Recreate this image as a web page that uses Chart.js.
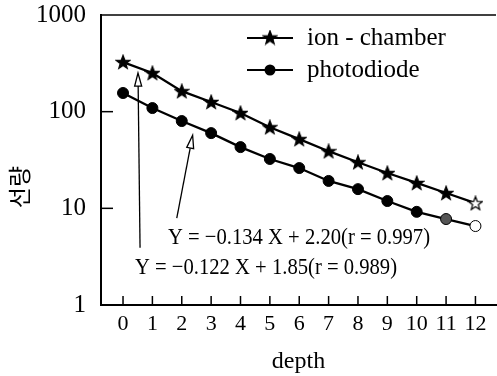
<!DOCTYPE html>
<html>
<head>
<meta charset="utf-8">
<script src="https://cdn.jsdelivr.net/npm/chart.js@4"></script>
<style>
  body { margin: 0; background: #fff; }
  canvas { display: block; }
</style>
</head>
<body>
<canvas id="chart" width="497" height="376"></canvas>
<script>
const depth = [0, 1, 2, 3, 4, 5, 6, 7, 8, 9, 10, 11, 12];
const ionChamber = [326, 251, 163, 126, 97, 69, 52, 39, 30, 23.2, 18.3, 14.4, 11.3];
const photodiode = [156, 109, 80, 60, 43, 32.4, 26.1, 19.2, 15.8, 11.9, 9.2, 7.75, 6.56];
const yTicks = [1, 10, 100, 1000];
const seriesNames = ['ion - chamber', 'photodiode'];
const equations = ['Y = \u22120.134 X + 2.20(r = 0.997)', 'Y = \u22120.122 X + 1.85(r = 0.989)'];
const yTitle = '\uc120\ub7c9';

const serif = '"Liberation Serif", "DejaVu Serif", serif';

function makeStar(fill) {
  const c = document.createElement('canvas');
  c.width = c.height = 16;
  const g = c.getContext('2d');
  g.beginPath();
  for (let i = 0; i < 10; i++) {
    const r = i % 2 ? 3 : 7.2;
    const a = -Math.PI / 2 + i * Math.PI / 5;
    const px = 8 + r * Math.cos(a), py = 8.5 + r * Math.sin(a);
    i ? g.lineTo(px, py) : g.moveTo(px, py);
  }
  g.closePath();
  g.fillStyle = fill;
  g.fill();
  g.strokeStyle = '#000';
  g.lineWidth = 1.2;
  g.stroke();
  return c;
}
const starFull = makeStar('#000');
const starOpen = makeStar('#fff');

const toPoints = vals => vals.map((v, i) => ({ x: depth[i], y: v }));
const last = depth.length - 1;

function arrow(ctx, x1, y1, x2, y2) {
  const ang = Math.atan2(y2 - y1, x2 - x1);
  const len = 13, hw = 3.5;
  const bx = x2 - len * Math.cos(ang), by = y2 - len * Math.sin(ang);
  ctx.beginPath();
  ctx.moveTo(x1, y1);
  ctx.lineTo(bx, by);
  ctx.stroke();
  ctx.beginPath();
  ctx.moveTo(x2, y2);
  ctx.lineTo(bx + hw * Math.sin(ang), by - hw * Math.cos(ang));
  ctx.lineTo(bx - hw * Math.sin(ang), by + hw * Math.cos(ang));
  ctx.closePath();
  ctx.fillStyle = '#fff';
  ctx.fill();
  ctx.stroke();
}

const extras = {
  id: 'extras',
  afterDraw(chart) {
    const ctx = chart.ctx;
    const a = chart.chartArea;
    const xs = chart.scales.x, ys = chart.scales.y;
    ctx.save();
    ctx.strokeStyle = '#000';
    ctx.fillStyle = '#000';

    // top frame line
    ctx.lineWidth = 1.5;
    ctx.beginPath();
    ctx.moveTo(a.left, a.top);
    ctx.lineTo(a.right, a.top);
    ctx.stroke();

    // inward ticks
    depth.forEach(v => {
      const px = xs.getPixelForValue(v);
      ctx.beginPath();
      ctx.moveTo(px, a.bottom);
      ctx.lineTo(px, a.bottom - 9);
      ctx.stroke();
    });
    yTicks.slice(1, -1).forEach(v => {
      const py = ys.getPixelForValue(v);
      ctx.beginPath();
      ctx.moveTo(a.left, py);
      ctx.lineTo(a.left + 12, py);
      ctx.stroke();
    });

    // legend
    ctx.font = '25px ' + serif;
    ctx.textBaseline = 'middle';
    seriesNames.forEach((name, i) => {
      const ly = a.top + 23 + i * 32;
      ctx.lineWidth = 2.2;
      ctx.beginPath();
      ctx.moveTo(247, ly);
      ctx.lineTo(293, ly);
      ctx.stroke();
      if (i === 0) {
        ctx.drawImage(starFull, 270 - 8, ly - 8.5);
      } else {
        ctx.beginPath();
        ctx.arc(270, ly, 5.5, 0, Math.PI * 2);
        ctx.fillStyle = '#000';
        ctx.fill();
      }
      ctx.fillStyle = '#000';
      ctx.fillText(name, 307, ly);
    });

    // equations (condensed)
    ctx.font = '23px ' + serif;
    const eqPos = [[168, 238], [135, 268]];
    equations.forEach((t, i) => {
      const w = ctx.measureText(t).width;
      ctx.save();
      ctx.translate(eqPos[i][0], eqPos[i][1]);
      ctx.scale(262 / w, 1);
      ctx.fillText(t, 0, 0);
      ctx.restore();
    });

    // arrows from equations to curves
    ctx.lineWidth = 1.3;
    arrow(ctx, xs.getPixelForValue(0.58), ys.getPixelForValue(3.9),
               xs.getPixelForValue(0.51), ys.getPixelForValue(251));
    arrow(ctx, xs.getPixelForValue(1.83), ys.getPixelForValue(7.9),
               xs.getPixelForValue(2.37), ys.getPixelForValue(57));

    // y title
    ctx.fillStyle = '#000';
    ctx.font = '23px "Noto Sans CJK KR", sans-serif';
    ctx.translate(19, 187);
    ctx.rotate(-Math.PI / 2);
    ctx.textAlign = 'center';
    ctx.fillText(yTitle, 0, 0);
    ctx.restore();
  }
};

new Chart(document.getElementById('chart'), {
  type: 'line',
  data: {
    datasets: [
      {
        label: seriesNames[0],
        data: toPoints(ionChamber),
        borderColor: '#000',
        borderWidth: 2.3,
        pointStyle: depth.map((d, i) => i === last ? starOpen : starFull),
        pointRadius: 7
      },
      {
        label: seriesNames[1],
        data: toPoints(photodiode),
        borderColor: '#000',
        borderWidth: 2.3,
        pointStyle: 'circle',
        pointRadius: 5.5,
        pointBorderWidth: 1,
        pointBorderColor: '#000',
        pointBackgroundColor: depth.map((d, i) => i === last ? '#fff' : (i === last - 1 ? '#555' : '#000'))
      }
    ]
  },
  options: {
    responsive: false,
    animation: false,
    devicePixelRatio: 1,
    layout: { autoPadding: false, padding: { left: 0, right: 1, top: 15, bottom: 0 } },
    plugins: { legend: { display: false }, tooltip: { enabled: false } },
    scales: {
      x: {
        type: 'linear',
        min: -0.75,
        max: 12.7,
        afterBuildTicks: s => { s.ticks = depth.map(v => ({ value: v })); },
        afterFit: s => { s.height = 71; s.paddingLeft = 0; s.paddingRight = 0; },
        grid: { display: false, drawTicks: false },
        border: { display: true, color: '#000', width: 2 },
        ticks: { color: '#000', font: { family: serif, size: 22 }, padding: 6, maxRotation: 0, autoSkip: false },
        title: { display: true, text: 'depth', color: '#000', font: { family: serif, size: 24 }, padding: { top: 0, bottom: 0 } }
      },
      y: {
        type: 'logarithmic',
        min: 1,
        max: 1000,
        afterBuildTicks: s => { s.ticks = yTicks.map(v => ({ value: v })); },
        afterFit: s => { s.width = 101; s.paddingTop = 0; s.paddingBottom = 0; },
        grid: { display: false, drawTicks: false },
        border: { display: true, color: '#000', width: 2 },
        ticks: { color: '#000', font: { family: serif, size: 25 }, padding: 15, callback: v => String(v) }
      }
    }
  },
  plugins: [extras]
});
</script>
</body>
</html>
